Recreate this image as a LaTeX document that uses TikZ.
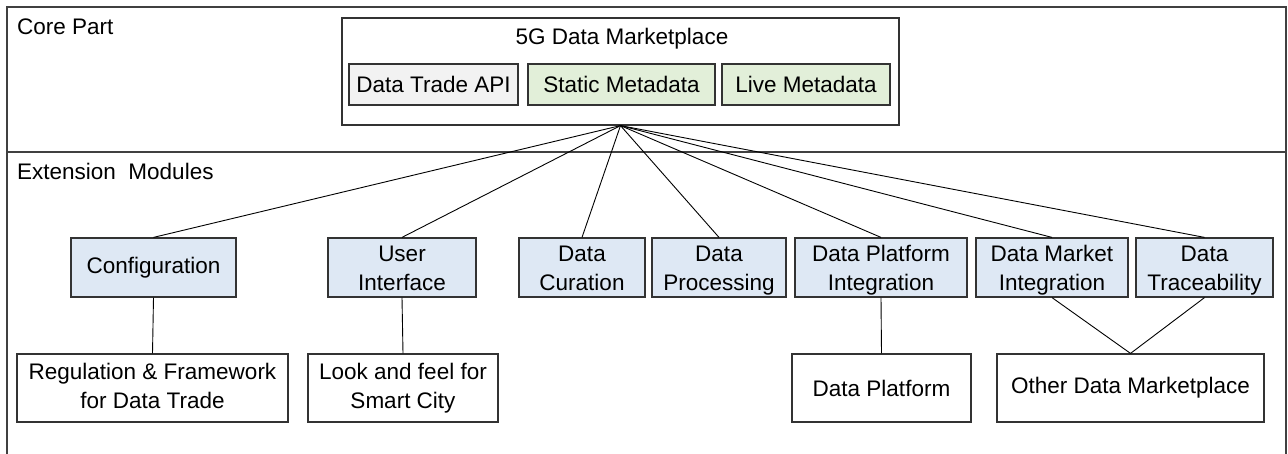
\documentclass[tikz,border=0pt]{standalone}
\usepackage{fontspec}
\setmainfont{Liberation Sans}
\definecolor{framecol}{HTML}{404040}
\definecolor{boxcol}{HTML}{333333}
\definecolor{bluefill}{HTML}{DEE8F4}
\definecolor{greenfill}{HTML}{E2EFD9}
\definecolor{grayfill}{HTML}{F2F2F2}
\newcommand{\twol}[2]{\rule{0pt}{23pt}#1\\#2\rule[-5.5pt]{0pt}{5.5pt}}
\newcommand{\twow}[2]{\rule{0pt}{20pt}#1\\#2\rule[-8.5pt]{0pt}{8.5pt}}
\tikzset{
  mbox/.style={draw=boxcol, line width=1.2pt, inner sep=0pt, align=center,
    font=\fontsize{22.5}{28.5}\selectfont},
  bluebox/.style={mbox, fill=bluefill, minimum height=59pt},
  whitebox/.style={mbox, fill=white, minimum height=68pt},
  innerbox/.style={mbox, minimum height=41pt},
  conn/.style={draw=black, line width=0.9pt},
  lbl/.style={inner sep=0pt, font=\fontsize{22.5}{28.5}\selectfont}
}
\begin{document}
\begin{tikzpicture}[x=1pt,y=-1pt]
\useasboundingbox (0,0) rectangle (1288,454);
% outer frame and divider
\draw[framecol, line width=1.6pt] (7,454) -- (7,7) -- (1286,7) -- (1286,454);
\draw[framecol, line width=1.4pt] (7,152) -- (1286,152);
\node[lbl, anchor=base west] (corepart) at (17,35) {Core Part};
\node[lbl, anchor=base west] (extmod) at (17,180) {Extension\ \ Modules};
% core part
\node[mbox, minimum width=557pt, minimum height=107pt] (core) at (620.5,71.5) {};
\node[lbl, anchor=base] (title) at (622,45) {5G Data Marketplace};
\node[innerbox, fill=grayfill, minimum width=169pt] (api) at (433.5,84.5) {Data Trade API};
\node[innerbox, fill=greenfill, minimum width=187pt] (static) at (621.5,84.5) {Static Metadata};
\node[innerbox, fill=greenfill, minimum width=168pt] (live) at (806,84.5) {Live Metadata};
% extension modules
\node[bluebox, minimum width=165pt] (config) at (153.5,267.5) {Configuration};
\node[bluebox, minimum width=148pt] (ui) at (402,267.5) {\twol{User}{Interface}};
\node[bluebox, minimum width=126pt] (cur) at (582,267.5) {\twol{Data}{Curation}};
\node[bluebox, minimum width=134pt] (proc) at (719,267.5) {\twol{Data}{Processing}};
\node[bluebox, minimum width=172pt] (dpi) at (881,267.5) {\twol{Data Platform}{Integration}};
\node[bluebox, minimum width=152pt] (dmi) at (1052,267.5) {\twol{Data Market}{Integration}};
\node[bluebox, minimum width=137pt] (dt) at (1204.5,267.5) {\twol{Data}{Traceability}};
% bottom boxes
\node[whitebox, minimum width=271pt] (reg) at (152.5,388) {\twow{Regulation \& Framework}{for Data Trade}};
\node[whitebox, minimum width=190pt] (look) at (403,388) {\twow{Look and feel for}{Smart City}};
\node[whitebox, minimum width=179pt] (dp) at (881.5,388) {Data Platform};
\node[whitebox, minimum width=267pt] (odm) at (1130.5,388) {Other Data Marketplace};
% connectors
\foreach \n in {config,ui,cur,proc,dpi,dmi,dt}
  \draw[conn] (core.south) -- (\n.north);
\draw[conn] (config.south) -- (reg.north);
\draw[conn] (ui.south) -- (look.north);
\draw[conn] (dpi.south) -- (dp.north);
\draw[conn] (dmi.south) -- (odm.north);
\draw[conn] (dt.south) -- (odm.north);
\end{tikzpicture}
\end{document}
